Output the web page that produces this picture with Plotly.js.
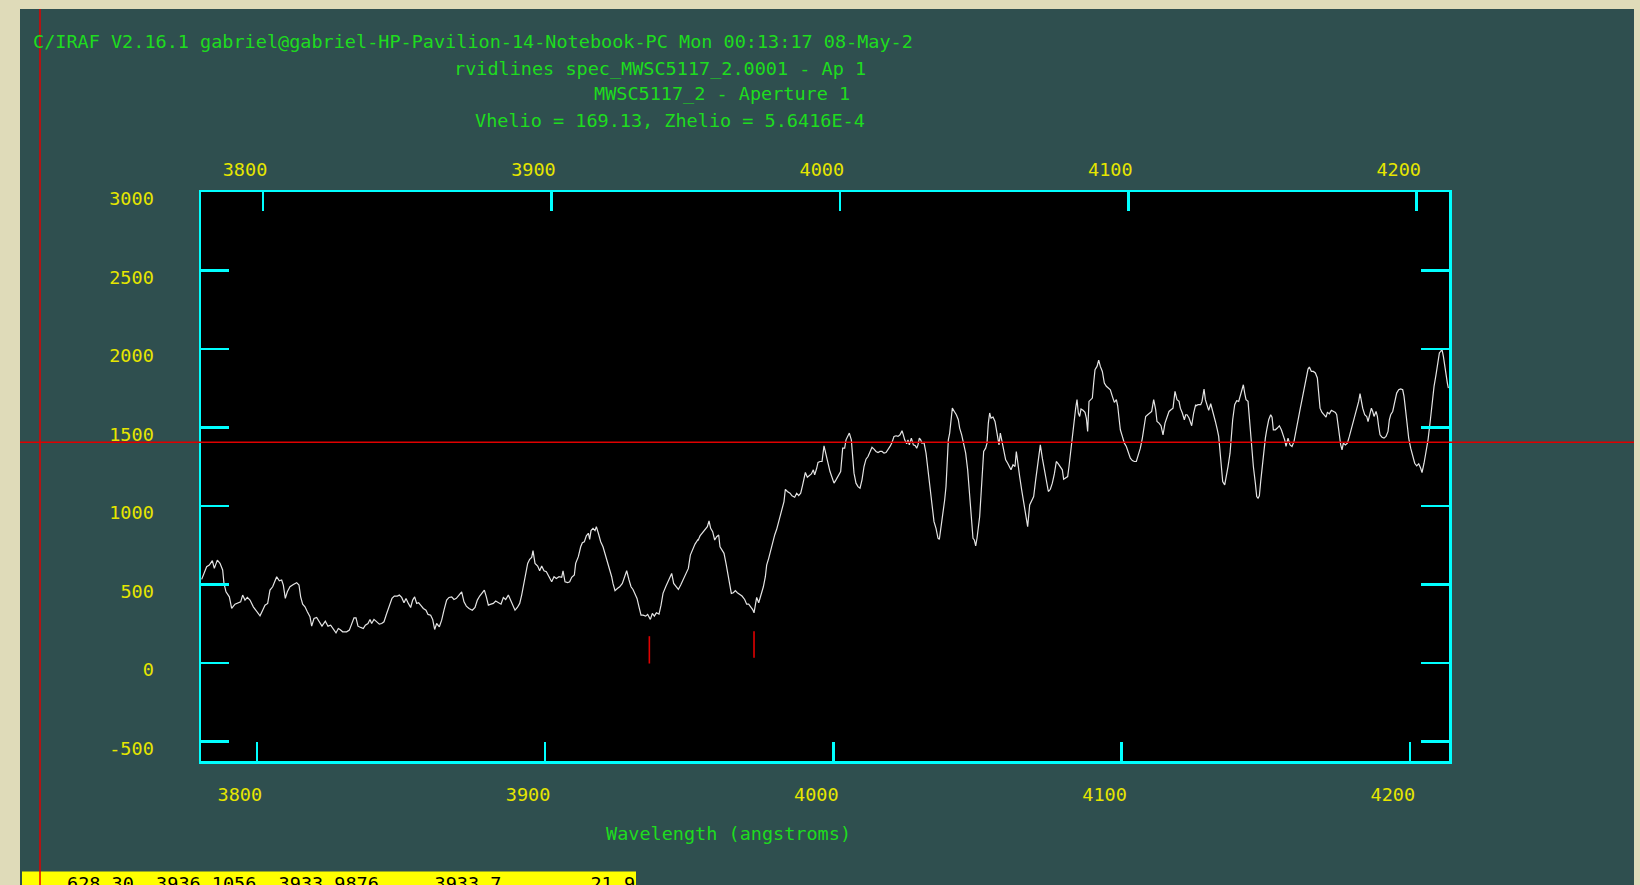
<!DOCTYPE html>
<html>
<head>
<meta charset="utf-8">
<script src="https://cdn.plot.ly/plotly-3.0.1.min.js"></script>
<style>html,body{margin:0;padding:0;background:#dfdbb9;}#chart{width:1640px;height:885px;}</style>
</head>
<body>
<div id="chart"></div>
<script>
// ---------------- DATA ----------------
// Observed wavelength (Angstroms, bottom axis) and flux of spectrum
const wavelength = [
3780.86,3781.67,3782.59,3783.52,3784.56,3785.25,3786.29,3787.22,3788.14,3788.61,3789.30,3790.46,3791.27,3792.42,3793.58,3794.39,3795.08,3795.89,3796.70,3797.63,
3798.78,3799.94,3801.10,3802.02,3802.83,3803.76,3804.56,3805.49,3806.30,3806.88,3807.80,3808.61,3809.19,3809.88,3810.58,3811.50,3812.66,3813.82,3814.62,3815.20,
3815.90,3816.71,3817.52,3818.44,3819.02,3819.83,3820.75,3821.68,3822.60,3823.76,3824.69,3825.61,3826.54,3827.46,3828.27,3828.85,3829.77,3831.16,3832.09,3833.01,
3833.71,3834.40,3835.09,3836.02,3836.94,3837.64,3838.56,3839.26,3839.83,3840.64,3841.57,3842.49,3843.30,3844.11,3845.04,3845.96,3846.89,3847.70,3848.74,3849.43,
3850.24,3851.05,3851.75,3852.56,3853.36,3854.06,3854.75,3855.45,3856.14,3856.83,3857.76,3858.68,3859.38,3860.30,3861.00,3861.69,3862.38,3863.31,3864.12,3864.93,
3865.85,
3866.67,3867.60,3868.40,3869.21,3870.14,3871.06,3871.87,3872.68,3873.61,3874.76,3875.69,3876.50,3877.31,3878.23,3878.93,3879.62,3880.32,3881.24,3882.05,3882.86,
3883.78,3884.71,3885.52,3886.33,3887.25,3888.06,3888.87,3889.57,3890.38,3891.19,3891.88,3892.57,3893.27,3893.96,3894.65,3895.35,3895.81,3896.50,3897.43,3898.12,
3898.82,3899.63,3900.44,3901.36,3902.29,3903.10,3903.91,3904.83,3905.76,3906.22,3906.91,3907.84,3908.53,3909.23,3910.15,3910.61,3911.54,3912.35,3912.93,3913.62,
3914.31,3915.01,3915.47,3915.93,3916.63,3917.32,3917.78,3918.48,3919.29,3920.09,3920.79,3921.60,3922.41,3923.10,3923.56,3924.26,3925.07,3925.88,3926.80,3927.61,
3928.31,3929.12,3929.81,3930.50,3931.20,3931.89,3932.58,3933.28,3933.97,3934.90,3935.59,3936.05,3936.52,3937.21,3937.90,3938.60,3939.52,3940.22,3940.91,3941.84,
3942.53,3943.22,3943.92,3944.61,3945.31,3946.23,3947.04,3947.85,3948.77,3949.70,3950.39,3951.09,3952.01,3952.94,
3953.05,3953.74,3954.44,3955.36,3956.29,3956.87,3957.44,3958.14,3958.83,3959.53,3960.22,3960.68,3961.38,3962.07,3962.76,3963.46,3964.15,3964.61,3965.31,3966.00,
3966.70,3967.51,3968.31,3969.24,3969.93,3970.63,3971.32,3972.01,3972.48,3972.94,3973.40,3974.10,3974.79,3975.72,3976.41,3976.87,3977.57,3978.26,3978.95,3979.65,
3980.34,3981.03,3981.73,3982.42,3982.88,3983.35,3984.04,3984.97,3985.66,3986.59,3987.28,3987.97,3988.67,3989.36,3989.82,3990.29,3990.98,3991.67,3992.37,3993.06,
3993.52,3994.22,3994.68,3995.37,3996.07,3996.76,3997.46,3998.15,3998.84,3999.54,4000.23,4000.92,4001.62,4002.54,4003.24,4003.93,4004.39,4005.09,4005.55,4006.24,
4006.71,4007.17,4007.86,4008.56,4009.25,4009.94,4010.64,4011.33,4012.03,4012.72,4013.41,4014.11,4014.80,4015.50,4016.19,4016.88,4017.58,4018.27,4018.96,4019.66,
4020.35,4021.05,4021.74,4022.43,4023.13,4023.82,4024.28,4024.75,4025.44,4025.90,4026.36,4027.06,4027.75,4028.45,4028.91,4029.37,4029.83,4030.30,4030.76,4031.45,
4032.15,4032.84,4033.54,4034.23,4034.92,4035.62,4036.31,4036.77,4037.24,4037.93,4038.62,4039.08,
4039.43,4039.89,4040.36,4040.82,4041.28,4041.97,4042.67,4043.36,4043.82,4044.52,4045.21,4045.91,4046.60,4047.06,4047.52,4047.99,4048.45,4048.91,4049.38,4049.84,
4050.30,4050.76,4051.23,4051.69,4052.15,4052.84,4053.31,4053.77,4054.23,4054.69,4055.39,4056.08,4056.54,4057.01,4057.47,4057.93,4058.40,4059.09,4059.78,4060.48,
4061.17,4061.63,4062.33,4063.02,4063.48,4063.95,4064.64,4065.33,4066.03,4066.72,4067.41,4068.11,4068.80,4069.50,4070.19,4070.88,4071.35,4071.81,4072.50,4073.20,
4073.89,4074.59,4075.28,4075.97,4076.67,4077.36,4078.05,4078.75,4079.44,4079.90,4080.60,4081.29,4081.75,4082.22,4082.91,4083.60,4084.07,4084.53,4084.99,4085.45,
4085.92,4086.61,4087.30,4087.77,4088.23,4088.69,4089.39,4089.85,4090.31,4090.78,4091.47,4092.05,4092.62,4093.32,4094.01,4094.71,4095.40,4096.09,4096.79,4097.48,
4098.18,4098.64,4099.10,4099.56,4100.26,4100.95,4101.64,4102.34,4103.03,4103.73,4104.42,4105.11,4105.81,4106.50,4107.20,4107.89,4108.35,4109.05,4109.74,4110.43,
4111.13,4111.82,4112.28,4112.98,4113.67,4114.37,4115.06,4115.75,4116.45,4117.14,4117.83,4118.53,4119.22,4119.92,4120.38,4121.07,4121.77,4122.23,4122.69,4123.39,
4124.31,4125.00,4125.70,
4125.82,4126.51,4127.44,4127.90,4128.60,4129.06,4129.75,4130.21,4130.91,4131.37,4131.83,4132.53,4133.22,4133.68,4134.15,4134.61,4135.07,4135.77,4136.23,4136.92,
4137.62,4138.08,4138.54,4139.23,4139.93,4140.62,4141.32,4141.78,4142.24,4142.70,4143.17,4143.86,4144.32,4144.79,4145.25,4145.71,4146.40,4146.87,4147.33,4147.79,
4148.25,4148.72,4149.41,4149.87,4150.34,4151.03,4151.72,4152.19,4152.65,4153.34,4154.04,4154.73,4155.42,4156.12,4156.58,4157.04,4157.74,4158.43,4159.12,4159.82,
4160.51,4161.21,4161.90,4162.59,4163.29,4163.98,4164.68,4165.14,4165.83,4166.53,4167.22,4167.91,4168.38,4168.84,4169.53,4170.23,4170.92,4171.38,4172.08,4172.77,
4173.46,4174.16,4174.62,4175.08,4175.55,4176.01,4176.47,4176.93,4177.63,4178.32,4179.01,4179.48,4180.17,4180.87,4181.56,4182.25,4182.71,4183.18,4183.64,4184.33,
4185.03,4185.49,4185.95,4186.65,4187.11,4187.57,4188.27,4188.73,4189.19,4189.65,4190.35,4191.04,4191.73,4192.43,4192.89,4193.35,4194.05,4194.74,4195.43,4196.13,
4196.82,4197.52,4197.98,4198.44,4199.13,4199.60,4200.29,4200.99,4201.68,4202.38,4203.07,4203.76,4204.22,4204.92,4205.61,4206.31,4207.00,4207.69,4208.39,4209.08,
4209.78,4210.24,4210.70,4211.16,4211.63,4212.09,4212.55,4213.01,4213.36
];
const flux = [
532,570,613,623,651,602,655,634,592,506,453,421,347,374,383,389,432,400,417,400,
357,326,300,336,368,379,464,485,517,549,523,528,496,411,453,485,500,511,496,421,
374,357,326,294,234,283,289,262,234,266,234,240,219,191,219,213,198,198,209,251,
287,287,234,226,219,240,251,277,251,277,262,247,251,262,315,368,411,426,426,432,
417,383,411,379,353,400,421,379,383,368,347,336,309,304,277,213,251,230,272,336,
400,
417,421,404,411,432,453,389,362,347,336,353,400,426,447,464,421,368,374,379,394,
383,374,417,404,432,400,362,336,353,379,432,506,570,634,660,672,715,634,617,587,
617,587,581,549,517,549,538,549,545,587,517,511,517,545,560,634,677,740,766,772,
809,826,787,843,857,843,868,826,772,740,698,645,592,549,506,460,474,485,506,549,
587,528,485,468,443,411,357,304,304,298,309,289,277,315,298,319,311,368,443,485,
517,549,570,506,489,468,496,528,570,602,687,719,757,783,
779,809,826,843,868,904,857,836,783,804,815,740,719,698,634,570,485,443,447,460,
447,438,426,404,374,374,357,340,319,368,417,383,421,485,549,623,666,719,772,815,
851,900,943,996,1028,1106,1092,1081,1064,1055,1081,1066,1081,1134,1183,1213,1183,1192,1204,1230,
1198,1240,1277,1283,1283,1383,1315,1272,1219,1177,1145,1166,1187,1219,1368,1368,1421,1453,1464,1421,
1336,1209,1145,1123,1113,1166,1251,1298,1315,1347,1374,1362,1347,1340,1347,1347,1336,1340,1357,1379,
1404,1443,1447,1443,1453,1479,1453,1421,1396,1421,1389,1432,1389,1383,1368,1389,1432,1421,1400,1404,
1336,1230,1123,996,900,857,794,787,847,932,1038,1123,
1251,1421,1464,1549,1623,1602,1581,1549,1496,1453,1400,1336,1230,1123,996,868,794,783,745,794,
857,932,1070,1219,1347,1368,1400,1528,1592,1560,1566,1538,1496,1453,1389,1464,1421,1347,1294,1272,
1251,1230,1262,1251,1347,1272,1187,1102,1028,953,868,1006,1038,1060,1166,1272,1304,1389,1304,1230,
1145,1092,1106,1145,1204,1283,1268,1251,1230,1170,1177,1187,1251,1336,1432,1549,1623,1677,1592,1570,
1617,1609,1596,1560,1475,1666,1677,1687,1783,1868,1889,1928,1889,1857,1783,1762,1751,1740,1698,1660,
1677,1638,1560,1485,1443,1400,1379,1336,1304,1289,1283,1283,1326,1368,1432,1506,1570,1581,1592,1602,
1677,1613,1538,1528,1511,1453,1528,1570,1602,1613,1623,1730,1677,1666,1623,1592,1549,1581,1581,1560,
1511,1592,1645,
1638,1645,1645,1666,1745,1677,1630,1609,1651,1623,1581,1538,1485,1443,1347,1240,1155,1134,1177,1251,
1336,1443,1549,1645,1670,1666,1719,1740,1772,1719,1677,1666,1549,1421,1315,1251,1145,1060,1049,1064,
1155,1251,1347,1432,1485,1549,1581,1566,1485,1485,1496,1511,1485,1453,1421,1379,1432,1389,1379,1411,
1485,1549,1613,1677,1740,1804,1872,1885,1857,1857,1847,1815,1719,1623,1596,1581,1566,1596,1587,1609,
1602,1596,1581,1511,1421,1389,1357,1400,1389,1400,1443,1475,1517,1560,1613,1666,1715,1666,1623,1581,
1570,1538,1570,1623,1602,1570,1602,1570,1506,1453,1438,1432,1443,1475,1549,1581,1602,1666,1719,1740,
1745,1740,1698,1623,1506,1432,1368,1326,1272,1255,1268,1240,1213,1272,1336,1421,1528,1655,1762,1836,
1911,1975,1985,1996,1953,1889,1836,1783,1751
];
// identified line marks (observed wavelength, bottom and top flux of tick)
const markWavelength = [3936.17, 3972.48];
const markBottom = [-4, 32];
const markTop = [170, 202];
// axis ranges and ticks
const zhelio = 5.6416e-4;
const xRange = [3780.63, 4213.58];          // observed wavelength (bottom axis)
const yRange = [-625, 3000];
const xTicks = [3800, 3900, 4000, 4100, 4200];
const yTicks = [-500, 0, 500, 1000, 1500, 2000, 2500, 3000];
const cursorFlux = 1406;                      // horizontal cursor line
// texts
const titleLines = [
  "C/IRAF V2.16.1 gabriel@gabriel-HP-Pavilion-14-Notebook-PC Mon 00:13:17 08-May-2",
  "rvidlines spec_MWSC5117_2.0001 - Ap 1",
  "MWSC5117_2 - Aperture 1",
  "Vhelio = 169.13, Zhelio = 5.6416E-4"
];
const xTitle = "Wavelength (angstroms)";
const statusText = "628.30  3936.1056  3933.9876     3933.7        21.9";

// ---------------- LAYOUT HELPERS ----------------
const W = 1640, H = 885;
const M = {l: 201, r: 191, t: 192, b: 124};
const PW = W - M.l - M.r, PH = H - M.t - M.b;
const px = x => (x - M.l) / PW;
const py = y => (H - M.b - y) / PH;

const FONT = "DejaVu Sans Mono, Liberation Mono, monospace";
const FS = 18.5;
const CYAN = "#00ffff", YELLOW = "#e6e600", GREEN = "#1edc1e", RED = "#e00000";
const BEIGE = "#dfdbb9", SLATE = "#2f4f4f";

// marks as segments
const mx = [], my = [];
markWavelength.forEach((w, i) => { mx.push(w, w, null); my.push(markBottom[i], markTop[i], null); });

const traces = [
  {x: wavelength, y: flux, type: "scatter", mode: "lines",
   line: {color: "#e4e4e4", width: 1.2}, hoverinfo: "skip", showlegend: false},
  {x: mx, y: my, type: "scatter", mode: "lines",
   line: {color: RED, width: 1.6}, hoverinfo: "skip", showlegend: false},
  {x: xRange.map(v => v / (1 + zhelio)), y: [null, null], xaxis: "x2", yaxis: "y",
   type: "scatter", mode: "lines", hoverinfo: "skip", showlegend: false}
];

const axCommon = {
  showgrid: false, zeroline: false, showline: true, linecolor: CYAN, linewidth: 2.5,
  ticks: "inside", tickcolor: CYAN, tickwidth: 2.5,
  tickfont: {family: FONT, size: FS, color: YELLOW}
};

const ann = (text, x, y, color, xanchor = "left", yanchor = "middle") => ({
  text, x: px(x), y: py(y), xref: "paper", yref: "paper", xanchor, yanchor,
  showarrow: false, font: {family: FONT, size: FS, color}
});

const layout = {
  width: W, height: H, margin: M,
  paper_bgcolor: SLATE, plot_bgcolor: "#000000",
  showlegend: false,
  xaxis: Object.assign({}, axCommon, {
    range: xRange, tickvals: xTicks, ticktext: xTicks.map(String),
    ticklen: 19, ticklabelstandoff: 15, ticklabelshift: -17
  }),
  xaxis2: Object.assign({}, axCommon, {
    overlaying: "x", side: "top", anchor: "y",
    range: xRange.map(v => v / (1 + zhelio)), tickvals: xTicks, ticktext: xTicks.map(String),
    ticklen: 19, ticklabelstandoff: 6, ticklabelshift: -18
  }),
  yaxis: Object.assign({}, axCommon, {
    range: yRange, tickvals: yTicks, ticktext: yTicks.map(String),
    ticklen: 28, mirror: "ticks", ticklabelstandoff: 41, ticklabelshift: 7
  }),
  shapes: [
    {type: "rect", xref: "paper", yref: "paper", x0: px(0), x1: px(20), y0: py(H), y1: py(0), fillcolor: BEIGE, line: {width: 0}},
    {type: "rect", xref: "paper", yref: "paper", x0: px(0), x1: px(W), y0: py(9), y1: py(0), fillcolor: BEIGE, line: {width: 0}},
    {type: "rect", xref: "paper", yref: "paper", x0: px(1634), x1: px(W), y0: py(H), y1: py(0), fillcolor: BEIGE, line: {width: 0}},
    {type: "rect", xref: "paper", yref: "paper", x0: px(22), x1: px(636), y0: py(H), y1: py(871.5), fillcolor: "#ffff00", line: {width: 0}},
    {type: "line", xref: "paper", yref: "paper", x0: px(40), x1: px(40), y0: py(H), y1: py(9), line: {color: RED, width: 1.5}},
    {type: "line", xref: "paper", yref: "paper", x0: px(20), x1: px(1634),
     y0: (cursorFlux - yRange[0]) / (yRange[1] - yRange[0]), y1: (cursorFlux - yRange[0]) / (yRange[1] - yRange[0]),
     line: {color: RED, width: 1.5}}
  ],
  annotations: [
    ann(titleLines[0], 31, 42, GREEN),
    ann(titleLines[1], 452, 68, GREEN),
    ann(titleLines[2], 592, 94, GREEN),
    ann(titleLines[3], 473, 120, GREEN),
    ann(xTitle, 604, 833, GREEN),
    ann(statusText, 65, 870.5, "#000000", "left", "top")
  ]
};

Plotly.newPlot("chart", traces, layout, {staticPlot: true, displayModeBar: false});
</script>
</body>
</html>
